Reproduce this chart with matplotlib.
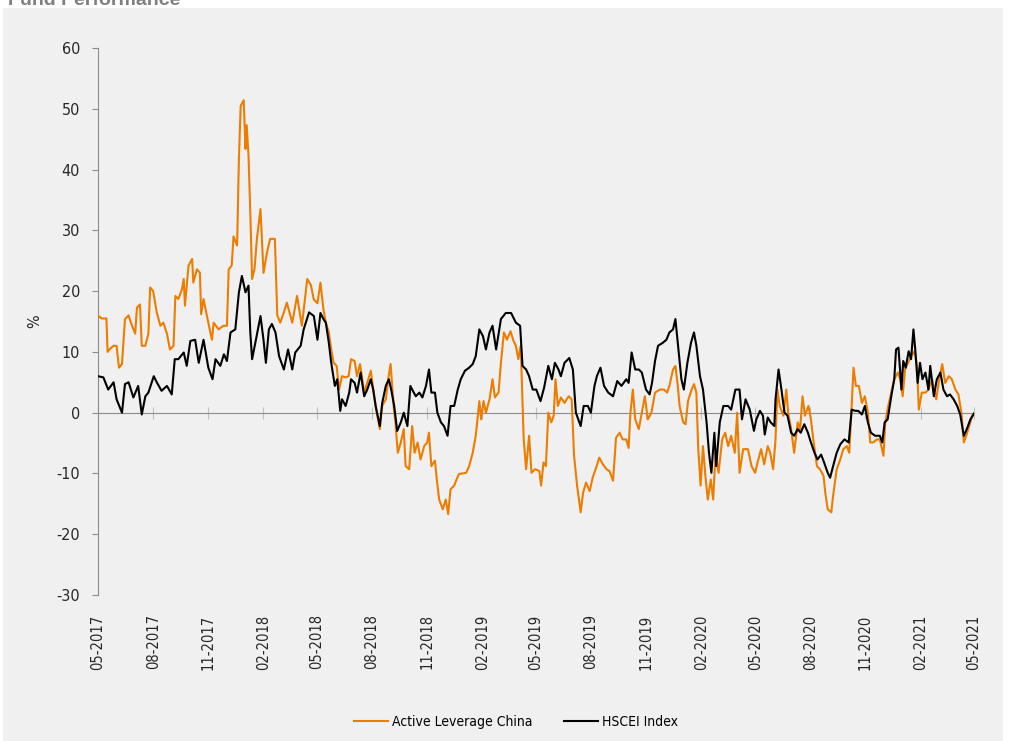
import matplotlib
matplotlib.use("Agg")
import pandas as pd
import matplotlib.pyplot as plt
import matplotlib.dates as mdates
from matplotlib import font_manager
from matplotlib.patches import Rectangle

# données (jours depuis le 01-05-2017, perf en %)
DEBUT = "2017-05-01"
SERIES = ["Active Leverage China", "HSCEI Index"]

alc_jours = [0, 6, 14, 16, 20, 26, 31, 35, 40, 45, 51, 56, 62, 65, 70, 73, 79, 84, 87, 92,
             98, 104, 109, 115, 120, 126, 129, 134, 140, 143, 145, 151, 157, 159, 165, 170, 172, 176, 184, 190,
             193, 201, 209, 215, 218, 223, 226, 232, 235, 238, 243, 246, 248, 251, 254, 257, 261, 265, 271, 276,
             282, 287, 295, 299, 304, 310, 315, 324, 332, 340, 349, 355, 360, 366, 371, 376, 380, 385, 389, 393,
             398, 402, 407, 413, 418, 422, 428, 432, 437, 444, 449, 455, 459, 465, 470, 474, 480, 484, 488, 493,
             496, 500, 505, 510, 513, 519, 524, 528, 533, 538, 544, 549, 552, 556, 562, 565, 569, 575, 580, 584,
             588, 594, 598, 602, 614, 619, 625, 630, 636, 639, 643, 647, 653, 658, 662, 668, 672, 677, 682, 688,
             693, 697, 701, 705, 710, 714, 719, 723, 729, 736, 739, 743, 747, 751, 756, 760, 763, 767, 772, 778,
             785, 790, 794, 799, 805, 809, 814, 820, 825, 831, 836, 842, 848, 853, 859, 864, 870, 875, 881, 885,
             888, 892, 896, 902, 907, 912, 917, 923, 929, 937, 944, 949, 953, 959, 963, 967, 970, 976, 980, 984,
             990, 994, 998, 1001, 1005, 1009, 1013, 1017, 1022, 1026, 1030, 1035, 1041, 1046, 1051, 1056, 1062, 1066, 1070, 1076,
             1084, 1090, 1096, 1100, 1106, 1111, 1117, 1121, 1126, 1130, 1133, 1137, 1143, 1148, 1151, 1156, 1161, 1167, 1171, 1175,
             1179, 1185, 1189, 1193, 1199, 1204, 1210, 1213, 1217, 1223, 1226, 1232, 1238, 1243, 1249, 1253, 1257, 1260, 1264, 1269,
             1274, 1279, 1284, 1288, 1293, 1299, 1304, 1310, 1313, 1318, 1324, 1328, 1334, 1338, 1342, 1346, 1351, 1356, 1362, 1366,
             1369, 1374, 1380, 1385, 1391, 1398, 1403, 1408, 1413, 1419, 1424, 1430, 1435, 1440, 1444, 1448, 1453, 1458, 1462]
alc_perf = [16, 15.5, 15.5, 10, 10.5, 11, 11, 7.4, 8, 15.4, 16, 14.5, 13, 17.3, 17.8, 11, 11, 13, 20.6, 20,
            16.5, 14.3, 14.8, 13, 10.4, 11, 19.2, 18.7, 20.3, 22, 17.6, 24.2, 25.3, 21.4, 23.6, 23, 16.2, 18.7, 14.8, 12,
            14.8, 13.7, 14.3, 14.3, 23.6, 24.2, 29, 27.5, 41.8, 50.5, 51.4, 43.4, 47.3, 42.3, 33, 22, 23.6, 28.6, 33.5, 23,
            26.4, 28.6, 28.6, 16, 14.8, 16.5, 18.1, 14.8, 19.2, 14.3, 22, 21, 18.6, 18, 21.4, 17, 14.8, 13.2, 10.4, 8.2,
            7.7, 3.8, 6, 5.8, 6, 8.8, 8.5, 6, 8, 3.3, 4.9, 6.9, 3.8, 0, -2.7, 1.1, 2.2, 5.5, 8, 1.1,
            -1.6, -6.6, -4.9, -2.7, -8.8, -9.3, -2.2, -6.6, -4.9, -7.7, -5.5, -4.9, -3.3, -8.8, -7.9, -11, -14.3, -15.9, -14.3, -16.7,
            -12.6, -12, -11, -10.1, -9.9, -8.8, -6.6, -3.8, 1.9, -1.1, 1.9, 0, 2.2, 5.5, 2.5, 3.3, 8.2, 13.2, 12, 13.4,
            11.8, 11, 8.8, 11, -4.4, -9.3, -3.8, -9.9, -9.3, -9.6, -12, -8.2, -8.8, 0, -1.6, -0.5, 5.5, 1.1, 2.5, 1.6,
            2.7, 2.2, -7.1, -12, -16.4, -13.2, -11.5, -12.9, -10.7, -9, -7.4, -8.5, -9.3, -9.6, -11.2, -4.1, -3.3, -4.4, -4.4, -5.8,
            0, 3.8, -1.1, -2.7, 0, 2.7, -1.1, 0, 3.3, 3.8, 3.8, 3.3, 4.4, 7.1, 7.7, 4.4, 1.1, -1.6, -1.9, 1.9,
            3.8, 4.7, 3.3, -5.8, -12, -5.5, -10.4, -14.3, -11, -14.3, -6.6, -9.9, -4.4, -3.3, -5.5, -3.8, -6.6, 0, -9.9, -6,
            -6, -8.8, -9.9, -8.2, -6, -8.5, -5.5, -6.6, -9.3, -4.4, 3.8, 1.1, -0.5, 3.8, 0, -2.7, -6.6, -1.6, -2.7, 2.7,
            -0.5, 1.1, -1.1, -4.4, -8.8, -9.3, -10.4, -13.2, -15.9, -16.4, -13.7, -9.3, -7.7, -6, -5.5, -6.6, 1.1, 7.4, 4.4, 4.4,
            1.6, 2.7, 0, -4.9, -4.9, -4.4, -4.4, -7.1, -1.6, 1.1, 3.8, 5.5, 6.6, 5.5, 2.7, 7.1, 8.2, 9.3, 10.1, 7.7,
            0.5, 3.3, 3.3, 3.8, 5.5, 2.2, 5.5, 8, 4.9, 6, 5.5, 3.8, 3, 0, -4.9, -3.8, -2.2, -0.5, 0]

hscei_jours = [0, 9, 17, 26, 31, 40, 45, 51, 59, 67, 73, 79, 84, 93, 98, 106, 115, 123, 128, 134,
               143, 148, 154, 162, 168, 176, 184, 191, 196, 204, 210, 215, 221, 229, 235, 240, 246, 251, 254, 257,
               263, 271, 276, 280, 285, 290, 296, 302, 310, 317, 324, 329, 338, 343, 352, 360, 366, 371, 376, 380,
               385, 389, 395, 399, 404, 407, 413, 419, 422, 428, 432, 438, 444, 449, 455, 459, 463, 470, 474, 480,
               485, 489, 494, 499, 505, 510, 516, 521, 524, 530, 536, 541, 547, 552, 556, 562, 566, 572, 577, 583,
               588, 594, 600, 605, 612, 619, 625, 630, 636, 642, 647, 653, 658, 664, 672, 680, 689, 697, 704, 708,
               714, 719, 725, 731, 738, 744, 751, 757, 762, 768, 772, 778, 786, 792, 797, 805, 810, 817, 822, 828,
               832, 838, 844, 851, 859, 866, 873, 881, 885, 890, 896, 902, 907, 914, 920, 924, 929, 934, 942, 948,
               953, 959, 963, 967, 973, 977, 983, 989, 994, 998, 1004, 1009, 1015, 1019, 1023, 1028, 1031, 1037, 1043, 1051,
               1056, 1063, 1070, 1074, 1080, 1087, 1094, 1098, 1104, 1109, 1112, 1117, 1122, 1128, 1130, 1135, 1139, 1145, 1150, 1156,
               1161, 1167, 1172, 1178, 1184, 1189, 1195, 1200, 1206, 1211, 1217, 1221, 1226, 1232, 1238, 1245, 1252, 1257, 1263, 1268,
               1274, 1279, 1284, 1289, 1296, 1304, 1308, 1312, 1317, 1323, 1328, 1331, 1335, 1340, 1343, 1347, 1352, 1356, 1360, 1363,
               1367, 1371, 1375, 1380, 1385, 1388, 1394, 1399, 1405, 1410, 1416, 1421, 1427, 1433, 1438, 1444, 1449, 1455, 1462]
hscei_perf = [6, 5.8, 3.8, 5, 2.2, 0, 4.7, 5, 2.5, 4.4, -0.3, 2.7, 3.3, 6, 5, 3.6, 4.4, 3, 8.8, 8.8,
              9.9, 7.7, 11.8, 12, 8.2, 12, 7.4, 5.5, 8.8, 7.7, 9.6, 8.5, 13.2, 13.7, 19.8, 22.5, 19.8, 20.9, 13.2, 8.8,
              11.8, 15.9, 12, 8.2, 13.7, 14.6, 13.2, 9.3, 7.1, 10.4, 7.1, 9.9, 11, 13.7, 16.5, 15.9, 12, 16.4, 15.4, 14.8,
              11.5, 8.2, 4.4, 5.5, 0.3, 2.2, 1.1, 3.3, 5.5, 4.9, 3.3, 6.6, 2.7, 3.8, 5.5, 3.8, 1.1, -2.2, 1.6, 4.4,
              5.5, 3.8, 1.1, -3, -1.6, 0, -2.2, 4.4, 3.8, 2.7, 3.3, 2.5, 4.4, 7.1, 3.3, 3.3, 0, -1.6, -2.2, -3.8,
              1.1, 1.1, 3.8, 5.5, 6.9, 7.4, 8, 9.3, 13.7, 12.6, 10.4, 13.2, 14.3, 10.4, 15.4, 16.4, 16.4, 14.8, 14.3, 7.7,
              7.1, 6, 3.8, 3.8, 1.9, 4.1, 7.7, 5.5, 8.2, 7.1, 6, 8.2, 9, 7.1, 0, -2.2, 1.1, 1.1, 0, 4.4,
              6, 7.4, 4.4, 3.3, 2.7, 5.2, 4.4, 5.5, 4.9, 9.9, 7.1, 7.1, 6.6, 3.8, 3, 4.9, 8.5, 11, 11.5, 12,
              13.2, 13.7, 15.4, 11.5, 5.5, 3.8, 8.2, 11.5, 13.2, 11, 6, 3.8, -1.6, -6.6, -9.9, -3.3, -8.8, -1.6, 1.1, 1.1,
              0.5, 3.8, 3.8, -1.1, 2.2, 0.5, -3, -1.1, 0.3, -0.5, -3.6, -0.8, -1.6, -2.2, 2.2, 7.1, 4.4, 0, -0.5, -3.3,
              -3.8, -2.7, -3.3, -1.9, -3.3, -4.9, -6.6, -7.7, -6.9, -8.2, -9.9, -10.7, -8.8, -6.6, -5.2, -4.4, -4.9, 0.5, 0.3, 0.3,
              -0.3, 1.1, -1.6, -3.3, -3.8, -3.8, -4.9, -1.6, -1.1, 2.7, 5.5, 10.4, 10.7, 3.8, 8.5, 7.4, 10.1, 8.8, 13.7, 10.4,
              4.9, 8.2, 5.5, 6.6, 3.8, 7.7, 2.7, 5.5, 6.6, 3.8, 2.7, 3, 2.2, 1.1, -0.3, -3.8, -2.7, -1.1, 0]

COULEURS = ["#ED7D00", "#000000"]

# police étroite si dispo
noms = {f.name for f in font_manager.fontManager.ttflist}
if "Liberation Sans Narrow" in noms:
    plt.rcParams["font.family"] = ["Liberation Sans Narrow", "DejaVu Sans"]
else:
    plt.rcParams["font.family"] = ["DejaVu Sans"]
    plt.rcParams["font.stretch"] = "condensed"
plt.rcParams["axes.unicode_minus"] = False  # tiret simple comme l'original

W, H = 1011, 741
fig = plt.figure(figsize=(W / 100, H / 100), dpi=100, facecolor="white")

# fond gris du cadre (derrière tout)
fig.patches.append(Rectangle((3 / W, 0), 1000 / W, 1 - 8 / H, transform=fig.transFigure,
                             facecolor="#f0f0f0", edgecolor="none", zorder=-10))
fig.text(8 / W, 1 - 5 / H, "Fund Performance", fontsize=14, fontweight="bold", color="#7f7f7f",
         family=["Liberation Sans", "DejaVu Sans"], va="baseline", ha="left")

ax = fig.add_axes([98 / W, 1 - 595 / H, (974 - 98) / W, (595 - 48) / H])
ax.set_facecolor("none")

debut = pd.Timestamp(DEBUT)
d_alc = debut + pd.to_timedelta(alc_jours, unit="D")
d_hs = debut + pd.to_timedelta(hscei_jours, unit="D")
ax.plot(d_alc, alc_perf, color=COULEURS[0], lw=1.5, label=SERIES[0], zorder=3)
ax.plot(d_hs, hscei_perf, color=COULEURS[1], lw=1.5, label=SERIES[1], zorder=4)

ax.set_xlim(pd.Timestamp("2017-05-01"), pd.Timestamp("2021-05-01"))
ax.set_ylim(-30, 60)
ax.set_yticks(range(-30, 61, 10))
ax.set_ylabel("%", fontsize=11.5, color="#262626")
ax.yaxis.set_label_coords(-0.064, 0.5)

# axe des x sur la ligne du zéro, étiquettes en bas
for s in ["right", "bottom"]:
    ax.spines[s].set_visible(False)
ax.spines["top"].set_position(("data", 0))
ax.spines["top"].set_color("#8c8c8c")
ax.spines["left"].set_color("#8c8c8c")
ax.xaxis.set_major_locator(mdates.MonthLocator(bymonth=[2, 5, 8, 11]))
ax.xaxis.set_major_formatter(mdates.DateFormatter("%m-%Y"))
ax.tick_params(axis="x", top=True, bottom=False, labeltop=False, labelbottom=True,
               direction="inout", length=8, color="#c0c0c0", labelrotation=90,
               labelsize=10.5, labelcolor="#262626", pad=10)
ax.tick_params(axis="y", direction="out", length=4, color="#8c8c8c",
               labelsize=11.5, labelcolor="#262626", pad=9)

fig.legend(loc="center", bbox_to_anchor=(516 / W, 1 - 722 / H), ncol=2, frameon=False,
           fontsize=10, handlelength=2.5, handletextpad=0.3, columnspacing=2.2)

fig.savefig("out.png", dpi=100, facecolor=fig.get_facecolor())
